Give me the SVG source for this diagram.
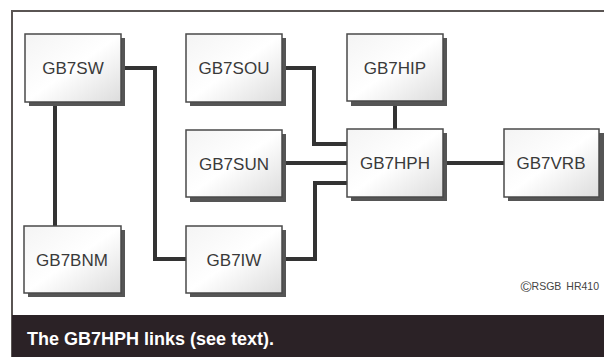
<svg xmlns="http://www.w3.org/2000/svg" width="604" height="357" viewBox="0 0 604 357">
<defs>
<linearGradient id="g" x1="0" y1="0" x2="1" y2="1">
<stop offset="0" stop-color="#f4f4f4"/>
<stop offset="0.5" stop-color="#ffffff"/>
<stop offset="1" stop-color="#dcdcdc"/>
</linearGradient>
</defs>
<style>
.sh{fill:#555}
.bx{fill:url(#g);stroke:#4a4a4a;stroke-width:1.5}
.t{font-family:"Liberation Sans",Arial,sans-serif;font-size:17px;fill:#3a3a3a;text-anchor:middle}
.c{fill:none;stroke:#333;stroke-width:4;stroke-linejoin:miter}
</style>
<rect width="604" height="357" fill="#fff"/>
<path d="M12 357 V11 H604" fill="none" stroke="#5a5553" stroke-width="2"/>
<rect x="12" y="315" width="592" height="42" fill="#2b2226"/>
<text x="27" y="345" font-family="Liberation Sans,Arial,sans-serif" font-size="18" font-weight="bold" fill="#fff">The GB7HPH links (see text).</text>
<g id="connectors">
<path class="c" d="M121 68 H155 V259 H186"/>
<path class="c" d="M55 102 V226"/>
<path class="c" d="M282 68 H314 V144 H347"/>
<path class="c" d="M282 163 H347"/>
<path class="c" d="M282 259 H315 V183 H347"/>
<path class="c" d="M395 101 V129"/>
<path class="c" d="M443 163 H504"/>
</g>
<g id="GB7SW"><rect class="sh" x="29" y="38" width="96" height="68"/><rect class="bx" x="25" y="34" width="96" height="68"/><text class="t" x="73" y="74">GB7SW</text></g>
<g id="GB7SOU"><rect class="sh" x="190" y="38" width="96" height="68"/><rect class="bx" x="186" y="34" width="96" height="68"/><text class="t" x="234" y="74">GB7SOU</text></g>
<g id="GB7HIP"><rect class="sh" x="351" y="38" width="96" height="68"/><rect class="bx" x="347" y="34" width="96" height="67"/><text class="t" x="395" y="74">GB7HIP</text></g>
<g id="GB7SUN"><rect class="sh" x="190" y="134" width="96" height="68"/><rect class="bx" x="186" y="130" width="96" height="67"/><text class="t" x="234" y="170">GB7SUN</text></g>
<g id="GB7HPH"><rect class="sh" x="351" y="133" width="96" height="68"/><rect class="bx" x="347" y="129" width="96" height="68"/><text class="t" x="395" y="169">GB7HPH</text></g>
<g id="GB7VRB"><rect class="sh" x="508" y="133" width="96" height="68"/><rect class="bx" x="504" y="129" width="95" height="68"/><text class="t" x="551" y="169">GB7VRB</text></g>
<g id="GB7BNM"><rect class="sh" x="28" y="230" width="97" height="67"/><rect class="bx" x="24" y="226" width="97" height="67"/><text class="t" x="72" y="266">GB7BNM</text></g>
<g id="GB7IW"><rect class="sh" x="190" y="230" width="96" height="67"/><rect class="bx" x="186" y="226" width="96" height="67"/><text class="t" x="234" y="266">GB7IW</text></g>
<text x="599" y="290" text-anchor="end" font-family="Liberation Sans,Arial,sans-serif" font-size="10.5" fill="#444"><tspan font-size="15" dy="1.5">©</tspan><tspan dy="-1.5">RSGB</tspan><tspan dx="5">HR410</tspan></text>
</svg>
